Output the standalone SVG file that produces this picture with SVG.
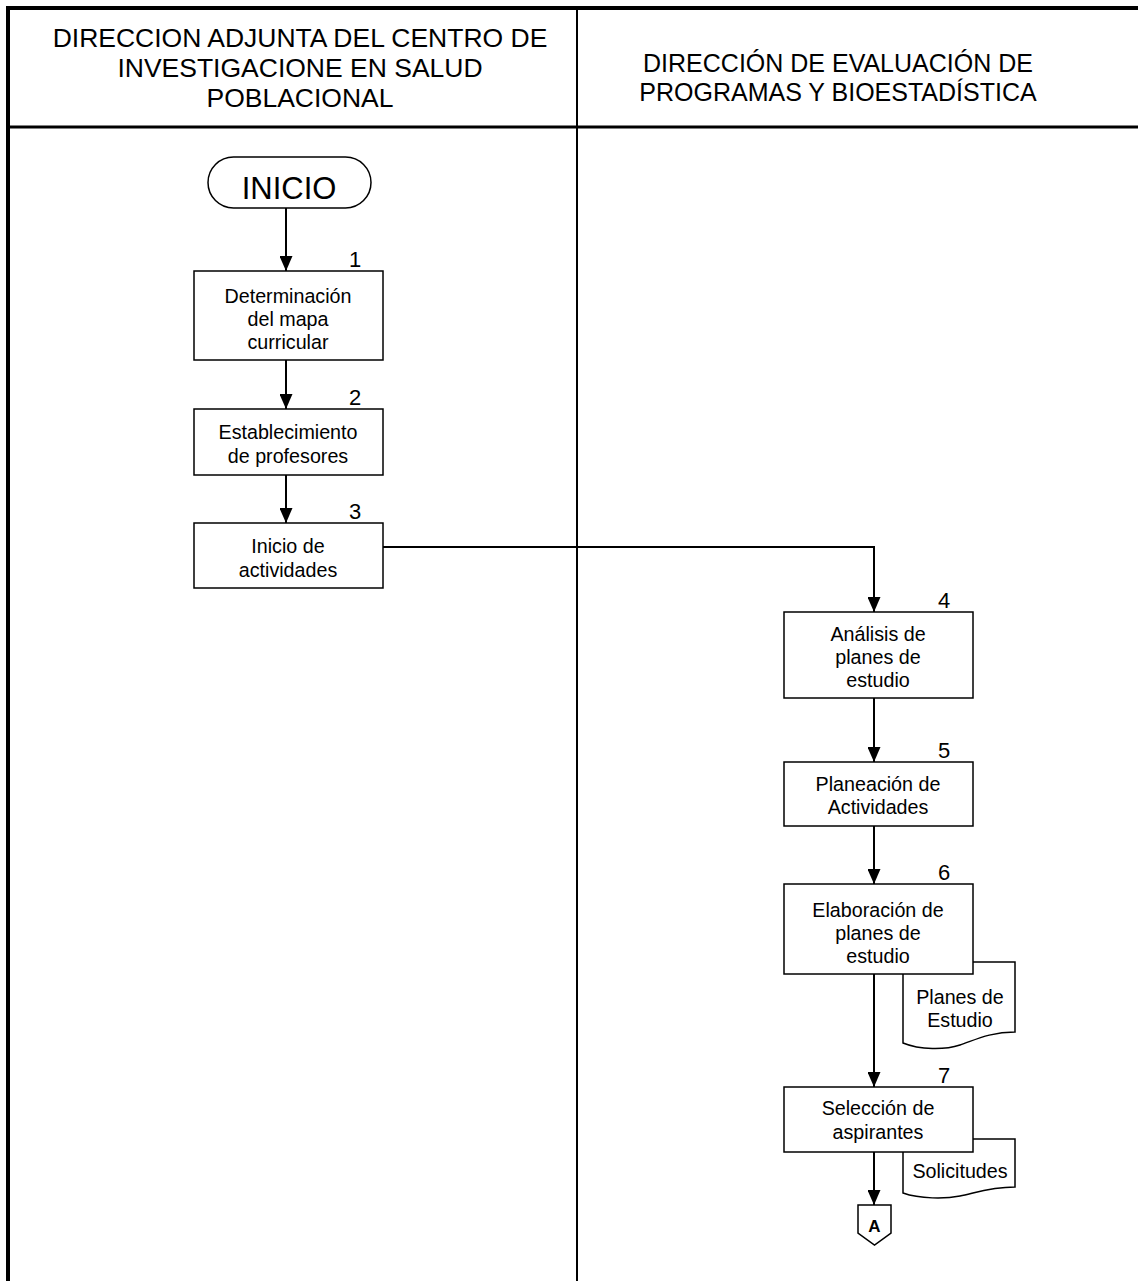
<svg xmlns="http://www.w3.org/2000/svg" width="1138" height="1281" viewBox="0 0 1138 1281">
<defs>
<style>
.t{font-family:"Liberation Sans",Arial,sans-serif;fill:#000;text-anchor:middle}
.h{font-size:25px}
.hl{font-size:26.5px}
.b{font-size:19.7px}
.n{font-size:22px}
.box{fill:#fff;stroke:#000;stroke-width:1.5}
.ln{fill:none;stroke:#000;stroke-width:2}
</style>
<marker id="ah" markerWidth="15" markerHeight="13" refX="15" refY="6.5" orient="auto" markerUnits="userSpaceOnUse" viewBox="0 0 15 13">
<path d="M0,0 L15,6.5 L0,13 Z" fill="#000"/>
</marker>
</defs>
<rect width="1138" height="1281" fill="#fff"/>
<g id="frame">
<line x1="8" y1="6" x2="8" y2="1281" stroke="#000" stroke-width="4"/>
<line x1="6" y1="8" x2="1138" y2="8" stroke="#000" stroke-width="4"/>
<line x1="6" y1="127" x2="1138" y2="127" stroke="#000" stroke-width="3"/>
<line x1="577" y1="8" x2="577" y2="1281" stroke="#000" stroke-width="2"/>
</g>
<g id="header-left">
<text class="t hl" x="300" y="47">DIRECCION ADJUNTA DEL CENTRO DE</text>
<text class="t hl" x="300" y="77">INVESTIGACIONE EN SALUD</text>
<text class="t hl" x="300" y="107">POBLACIONAL</text>
</g>
<g id="header-right">
<text class="t h" x="838" y="72">DIRECCIÓN DE EVALUACIÓN DE</text>
<text class="t h" x="838" y="101">PROGRAMAS Y BIOESTADÍSTICA</text>
</g>
<g id="connectors">
<line class="ln" x1="286" y1="208" x2="286" y2="271" marker-end="url(#ah)"/>
<line class="ln" x1="286" y1="360" x2="286" y2="409" marker-end="url(#ah)"/>
<line class="ln" x1="286" y1="475" x2="286" y2="523" marker-end="url(#ah)"/>
<polyline class="ln" points="383,547 874,547 874,612" marker-end="url(#ah)"/>
<line class="ln" x1="874" y1="698" x2="874" y2="762" marker-end="url(#ah)"/>
<line class="ln" x1="874" y1="826" x2="874" y2="884" marker-end="url(#ah)"/>
<line class="ln" x1="874" y1="974" x2="874" y2="1087" marker-end="url(#ah)"/>
<line class="ln" x1="874" y1="1152" x2="874" y2="1205" marker-end="url(#ah)"/>
</g>
<g id="inicio">
<rect class="box" x="208" y="157" width="163" height="51" rx="25.5" ry="25.5"/>
<text class="t" x="289" y="199" font-size="31">INICIO</text>
</g>
<g id="n1">
<rect class="box" x="194" y="271" width="189" height="89"/>
<text class="t n" x="355" y="267">1</text>
<text class="t b" x="288" y="303">Determinación</text>
<text class="t b" x="288" y="326">del mapa</text>
<text class="t b" x="288" y="349">curricular</text>
</g>
<g id="n2">
<rect class="box" x="194" y="409" width="189" height="66"/>
<text class="t n" x="355" y="405">2</text>
<text class="t b" x="288" y="439">Establecimiento</text>
<text class="t b" x="288" y="463">de profesores</text>
</g>
<g id="n3">
<rect class="box" x="194" y="523" width="189" height="65"/>
<text class="t n" x="355" y="519">3</text>
<text class="t b" x="288" y="553">Inicio de</text>
<text class="t b" x="288" y="577">actividades</text>
</g>
<g id="n4">
<rect class="box" x="784" y="612" width="189" height="86"/>
<text class="t n" x="944" y="608">4</text>
<text class="t b" x="878" y="641">Análisis de</text>
<text class="t b" x="878" y="664">planes de</text>
<text class="t b" x="878" y="687">estudio</text>
</g>
<g id="n5">
<rect class="box" x="784" y="762" width="189" height="64"/>
<text class="t n" x="944" y="758">5</text>
<text class="t b" x="878" y="791">Planeación de</text>
<text class="t b" x="878" y="814">Actividades</text>
</g>
<g id="doc1">
<path class="box" d="M903,962 H1015 V1032 C990,1032 975,1040 960,1045 C945,1050 920,1050 903,1043 Z"/>
<text class="t b" x="960" y="1004">Planes de</text>
<text class="t b" x="960" y="1027">Estudio</text>
</g>
<g id="n6">
<rect class="box" x="784" y="884" width="189" height="90"/>
<text class="t n" x="944" y="880">6</text>
<text class="t b" x="878" y="917">Elaboración de</text>
<text class="t b" x="878" y="940">planes de</text>
<text class="t b" x="878" y="963">estudio</text>
</g>
<g id="doc2">
<path class="box" d="M903,1139 H1015 V1187 C990,1187 975,1193 960,1196 C945,1199 920,1199 903,1193 Z"/>
<text class="t b" x="960" y="1178">Solicitudes</text>
</g>
<g id="n7">
<rect class="box" x="784" y="1087" width="189" height="65"/>
<text class="t n" x="944" y="1083">7</text>
<text class="t b" x="878" y="1115">Selección de</text>
<text class="t b" x="878" y="1139">aspirantes</text>
</g>
<g id="connA">
<path class="box" d="M858,1205 H891 V1233 L874.5,1245 L858,1233 Z"/>
<text class="t" x="874.5" y="1232" font-size="17" font-family="'DejaVu Sans Condensed','Liberation Sans Narrow',sans-serif" font-weight="bold">A</text>
</g>
</svg>
